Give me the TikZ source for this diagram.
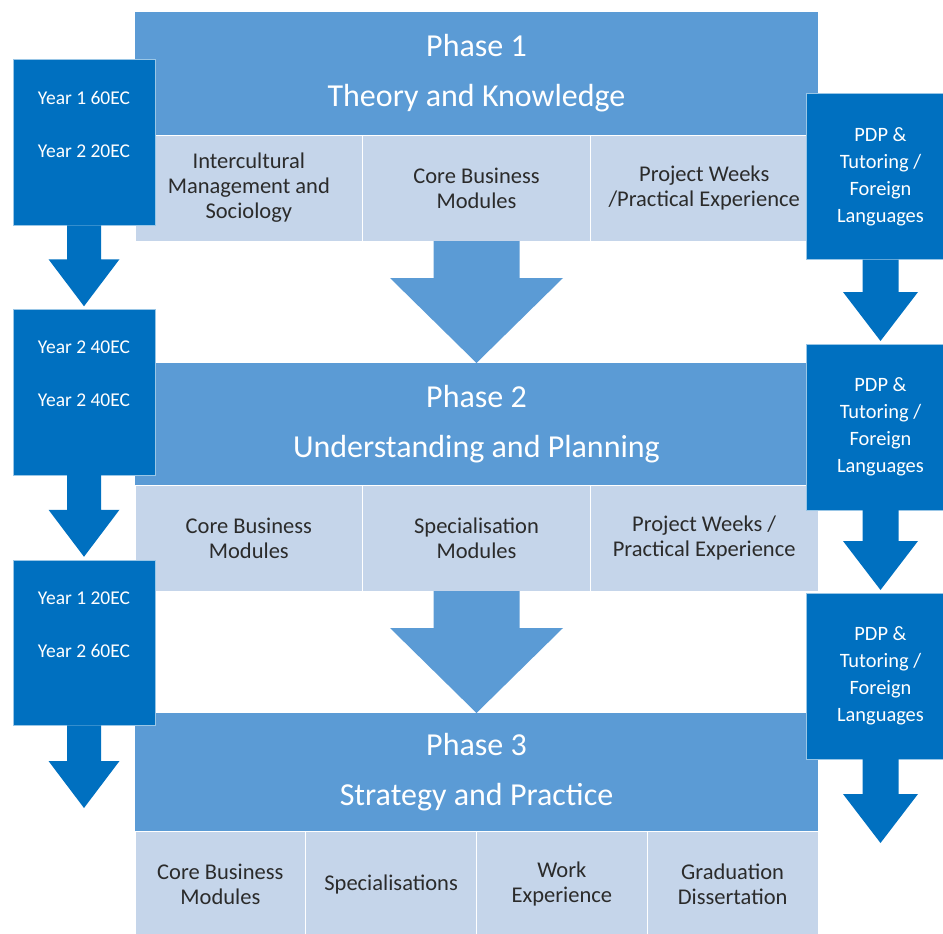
\documentclass[tikz,border=0pt]{standalone}
\usepackage{fontspec}
\setmainfont{Carlito}
\usetikzlibrary{positioning,calc}
\definecolor{phaseblue}{HTML}{5B9BD5}
\definecolor{modblue}{HTML}{C5D5EA}
\definecolor{yearblue}{HTML}{0070C0}
\definecolor{modtext}{HTML}{2B2B2B}
\tikzset{
	phase/.style={
		rectangle, fill=phaseblue, text=white,
		minimum width=683pt, inner sep=0pt, outer sep=0pt,
		align=center, font=\fontsize{32}{50}\selectfont,
	},
	module/.style={
		rectangle, fill=modblue, draw=white, line width=1pt, text=modtext,
		minimum height=106pt, inner sep=0pt, outer sep=0pt,
		align=center, font=\fontsize{22.5}{25}\selectfont,
	},
	wide/.style={module, minimum width=227.67pt},
	narrow/.style={module, minimum width=170.75pt},
	yearbox/.style={
		rectangle, fill=yearblue, draw=white!60!yearblue, line width=0.5pt,
		minimum width=142pt, minimum height=165.5pt, inner sep=0pt, outer sep=0pt,
	},
	yeartxt/.style={
		text=white, align=center, inner sep=0pt, font=\fontsize{19.5}{53}\selectfont,
	},
	pdpbox/.style={
		rectangle, fill=yearblue, draw=white!60!yearblue, line width=0.5pt, text=white,
		minimum width=149pt, minimum height=166pt, inner sep=0pt, outer sep=0pt,
		align=center, font=\fontsize{20.4}{27}\selectfont,
	},
}
% block arrow: colour, from, tip, shaft half width, head half width, head length
\newcommand{\fatarrow}[6]{%
	\fill[#1] ($(#2)+(-#4,0)$) -- ($(#3)+(-#4,-#6)$) -- ($(#3)+(-#5,-#6)$) -- (#3)
	-- ($(#3)+(#5,-#6)$) -- ($(#3)+(#4,-#6)$) -- ($(#2)+(#4,0)$) -- cycle;}
\begin{document}
\begin{tikzpicture}[x=1pt, y=-1pt]
	\useasboundingbox (0,0) rectangle (943,934);
	\clip (0,0) rectangle (943,934);
	% Phase 1
	\node [phase, minimum height=123pt] (ph1) at (476.5,73.5) {Phase 1\\Theory and Knowledge};
	\node [wide, anchor=north west] (intercult) at (ph1.south west) {Intercultural\\Management and\\Sociology};
	\node [wide, right=0pt of intercult] (core1) {Core Business\\Modules};
	\node [wide, right=0pt of core1] (proj1) {Project Weeks\\/Practical Experience};
	% Phase 2
	\node [phase, minimum height=122pt] (ph2) at (476.5,424) {Phase 2\\Understanding and Planning};
	\node [wide, anchor=north west] (core2) at (ph2.south west) {Core Business\\Modules};
	\node [wide, right=0pt of core2] (spec2) {Specialisation\\Modules};
	\node [wide, right=0pt of spec2] (proj2) {Project Weeks /\\Practical Experience};
	% Phase 3
	\node [phase, minimum height=118pt] (ph3) at (476.5,772) {Phase 3\\Strategy and Practice};
	\node [narrow, anchor=north west] (core3) at (ph3.south west) {Core Business\\Modules};
	\node [narrow, right=0pt of core3] (spec3) {Specialisations};
	\node [narrow, right=0pt of spec3] (work3) {Work\\Experience};
	\node [narrow, right=0pt of work3] (grad3) {Graduation\\Dissertation};
	% Phase arrows
	\fatarrow{phaseblue}{core1.south}{ph2.north}{43}{86.5}{85}
	\fatarrow{phaseblue}{spec2.south}{ph3.north}{43}{86.5}{85}
	% Years (left)
	\node [yearbox] (yr1) at (84,142.5) {};
	\node [yearbox] (yr2) at (84,392) {};
	\node [yearbox] (yr3) at (84,642.5) {};
	\node [yeartxt] (yrtxt1) at ($(yr1.center)+(0,-18)$) {Year 1 60EC\\Year 2 20EC};
	\node [yeartxt] (yrtxt2) at ($(yr2.center)+(0,-18)$) {Year 2 40EC\\Year 2 40EC};
	\node [yeartxt] (yrtxt3) at ($(yr3.center)+(0,-18)$) {Year 1 20EC\\Year 2 60EC};
	\coordinate (yrtip1) at ($(yr2.north)+(0,-3)$);
	\coordinate (yrtip2) at ($(yr3.north)+(0,-3)$);
	\coordinate (yrend) at (84,808);
	\fatarrow{yearblue}{yr1.south}{yrtip1}{17}{35.5}{47}
	\fatarrow{yearblue}{yr2.south}{yrtip2}{17}{35.5}{47}
	\fatarrow{yearblue}{yr3.south}{yrend}{17}{35.5}{47}
	% PDP (right)
	\node [pdpbox] (pdp1) at (880.5,176.5) {PDP \&\\Tutoring /\\Foreign\\Languages};
	\node [pdpbox] (pdp2) at (880.5,427) {PDP \&\\Tutoring /\\Foreign\\Languages};
	\node [pdpbox] (pdp3) at (880.5,676) {PDP \&\\Tutoring /\\Foreign\\Languages};
	\coordinate (pdptip1) at ($(pdp2.north)+(0,-3)$);
	\coordinate (pdptip2) at ($(pdp3.north)+(0,-3)$);
	\coordinate (pdpend) at (880.5,843);
	\fatarrow{yearblue}{pdp1.south}{pdptip1}{18}{37.5}{49}
	\fatarrow{yearblue}{pdp2.south}{pdptip2}{18}{37.5}{49}
	\fatarrow{yearblue}{pdp3.south}{pdpend}{18}{37.5}{49}
\end{tikzpicture}
\end{document}
